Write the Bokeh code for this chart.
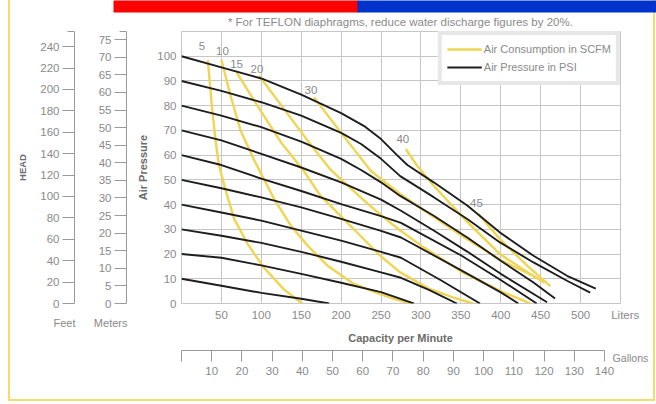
from bokeh.plotting import figure
from bokeh.models import (Range1d, LinearAxis, FixedTicker, Label, Legend, LegendItem,
                          ColumnDataSource, Title)
from bokeh.core.properties import value
from bokeh.embed import file_html
from bokeh.resources import INLINE

# ---------------- data ----------------
title_text = "* For TEFLON diaphragms, reduce water discharge figures by 20%."

liter_ticks = [50, 100, 150, 200, 250, 300, 350, 400, 450, 500]
psi_ticks = [0, 10, 20, 30, 40, 50, 60, 70, 80, 90, 100]
gallon_ticks = [0, 10, 20, 30, 40, 50, 60, 70, 80, 90, 100, 110, 120, 130, 140]
feet_ticks = [0, 20, 40, 60, 80, 100, 120, 140, 160, 180, 200, 220, 240]
meter_ticks = [0, 5, 10, 15, 20, 25, 30, 35, 40, 45, 50, 55, 60, 65, 70, 75]

FT_PER_PSI = 2.31
M_PER_PSI = 0.7031
L_PER_GAL = 3.785

# Air pressure curves (PSI): capacity in liters/min vs head in PSI
p10_lpm = [0, 50, 100, 150, 185]
p10_psi = [10, 7.2, 4.3, 1.9, 0]
p20_lpm = [0, 50, 100, 150, 200, 250, 291]
p20_psi = [20, 18.5, 15.4, 12, 8.4, 4.6, 0]
p30_lpm = [0, 50, 100, 150, 200, 250, 275, 310, 345]
p30_psi = [30, 27.4, 24.5, 20.9, 16.9, 12.6, 10.4, 5.5, 0]
p40_lpm = [0, 50, 100, 150, 200, 250, 275, 325, 374]
p40_psi = [40, 36.8, 33.5, 29.5, 25.4, 20.9, 18.5, 9.4, 0]
p50_lpm = [0, 50, 100, 150, 200, 250, 275, 350, 400, 422]
p50_psi = [50, 46.6, 42.9, 38.9, 34.2, 29.4, 26.7, 13.5, 4.5, 0]
p60_lpm = [0, 50, 100, 150, 200, 250, 275, 350, 400, 445]
p60_psi = [60, 56, 50.5, 45.5, 40.2, 35.3, 32.6, 19.5, 9.5, 0]
p70_lpm = [0, 50, 100, 150, 200, 250, 275, 316, 358, 400, 458]
p70_psi = [70, 66, 60.5, 55, 49, 42, 37.5, 29.5, 21, 12, 0.5]
p80_lpm = [0, 50, 100, 150, 200, 225, 250, 274, 316, 358, 400, 441, 468]
p80_psi = [80, 76, 71.3, 65.5, 58.5, 54, 49, 43.5, 35.5, 26.7, 17.3, 8.5, 2]
p90_lpm = [0, 50, 100, 150, 200, 225, 250, 274, 316, 358, 399, 441, 483, 512]
p90_psi = [90, 86, 81.4, 76, 69, 64.5, 58.5, 51.5, 43, 34.2, 24.7, 16.6, 9.2, 4.4]
p100_lpm = [0, 50, 100, 150, 200, 230, 250, 270, 283, 316, 358, 399, 441, 483, 519]
p100_psi = [100, 95.5, 91, 84.5, 77, 71.5, 66.5, 60, 56, 49, 39.6, 28.7, 19.3, 11.2, 6]

# Air consumption curves (SCFM)
s5_lpm = [33, 38, 43, 47, 56, 66, 83, 103, 128, 151]
s5_psi = [98.5, 80, 65, 55.8, 45, 34.2, 24, 14.6, 5.8, 0]
s10_lpm = [50, 62, 74, 91, 116, 137, 158, 183, 216, 249, 270, 288]
s10_psi = [98.5, 83.4, 70, 58, 42.3, 31.5, 23.4, 15.3, 7.9, 3.8, 1.5, 0]
s15_lpm = [69, 99, 125, 153, 174, 199, 224, 249, 274, 310, 340, 365]
s15_psi = [93.5, 78, 65, 53.7, 43.6, 35.5, 27.4, 19.3, 12.6, 6, 2.5, 0]
s20_lpm = [97, 130, 160, 187, 224, 249, 274, 300, 350, 400, 437]
s20_psi = [92.2, 78, 65, 54, 43, 36, 29.5, 23.5, 13, 5, 0]
s30_lpm = [166, 200, 237, 274, 316, 358, 400, 445]
s30_psi = [83.4, 69, 53.7, 44.3, 35, 26, 17.5, 10.5]
s40_lpm = [281, 295, 316, 358, 399, 441, 455]
s40_psi = [62.5, 55.8, 47.6, 33, 20, 11, 8.5]
s45_lpm = [372, 399, 433, 462]
s45_psi = [36.2, 26, 15.3, 7]

scfm_labels = ["5", "10", "15", "20", "30", "40", "45"]

pressure_curves = [(p10_lpm, p10_psi), (p20_lpm, p20_psi), (p30_lpm, p30_psi),
                   (p40_lpm, p40_psi), (p50_lpm, p50_psi), (p60_lpm, p60_psi),
                   (p70_lpm, p70_psi), (p80_lpm, p80_psi), (p90_lpm, p90_psi),
                   (p100_lpm, p100_psi)]
air_curves = [(s5_lpm, s5_psi), (s10_lpm, s10_psi), (s15_lpm, s15_psi),
              (s20_lpm, s20_psi), (s30_lpm, s30_psi), (s40_lpm, s40_psi),
              (s45_lpm, s45_psi)]

# ---------------- style / layout ----------------
FONT = "Liberation Sans"
GRAY = "#8a8a8a"
DARK = "#6c6c6c"
AXLINE = "#9a9a9a"
GRID = "#c6c6c6"
YELLOW = "#F0D552"
BORDER_YELLOW = "#f2dc72"
BLACK = "#1e1e1e"
TICK_SIZE = "11.5px"
UNIT_SIZE = "11px"
NBSP = "\u00a0"

# pixel offsets of the SCFM labels from the start of their curves (style only)
label_dx = [-6, 1, 0, -2, -3, -3, -2]
label_dy = [-14, -9, -8.5, -7, -7, -10, -11]

W, H = 656, 404
F_LEFT, F_RIGHT, F_TOP, F_BOTTOM = 181, 620, 31, 303
X_MAX = 550
Y_MAX = 110
PX_X = (F_RIGHT - F_LEFT) / X_MAX
PX_Y = (F_BOTTOM - F_TOP) / Y_MAX


def to_data(px, py):
    """page pixel -> data coordinates (for text placed outside the frame)"""
    return (px - F_LEFT) / PX_X, (F_BOTTOM - py) / PX_Y


p = figure(width=W, height=H,
           x_range=Range1d(0, X_MAX), y_range=Range1d(0, Y_MAX),
           output_backend="svg", toolbar_location=None,
           min_border_left=F_LEFT, min_border_right=W - F_RIGHT,
           min_border_top=F_TOP, min_border_bottom=H - F_BOTTOM)
p.background_fill_color = "white"
p.border_fill_color = "white"
p.outline_line_color = GRID
p.outline_line_width = 1
p.title.visible = False

# thin yellow page frame (left, bottom, right) painted behind a transparent border area
try:
    grad = "linear-gradient(%s,%s)" % (BORDER_YELLOW, BORDER_YELLOW)
    p.styles = {"background": (grad + " 8px 0px / 2px 401px no-repeat, " +
                               grad + " 8px 399px / 647px 2px no-repeat, " +
                               grad + " 653px 0px / 2px 401px no-repeat, #ffffff")}
    p.border_fill_alpha = 0
except Exception:
    p.border_fill_alpha = 1

p.extra_y_ranges = {"m": Range1d(0, Y_MAX * M_PER_PSI), "ft": Range1d(0, Y_MAX * FT_PER_PSI)}
p.extra_x_ranges = {"gal": Range1d(0, X_MAX / L_PER_GAL)}


def base_style(ax):
    ax.major_label_text_font = FONT
    ax.major_label_text_font_size = TICK_SIZE
    ax.major_label_text_color = GRAY
    ax.major_tick_in = 0
    ax.minor_tick_in = 0
    ax.axis_label_text_font = FONT
    ax.axis_label_text_font_style = "bold"
    ax.axis_label_text_color = DARK


def pad_label(ax, standoff):
    ax.axis_label = NBSP
    ax.axis_label_text_font_size = "1px"
    ax.axis_label_standoff = standoff


def side_label(side, px, py, text, align="left", baseline="middle", bold=False,
               size=UNIT_SIZE, color=None, bg=None):
    x, y = to_data(px, py)
    lab = Label(x=x, y=y, text=text, text_font=FONT, text_font_size=size,
                text_font_style="bold" if bold else "normal",
                text_color=color if color else (DARK if bold else GRAY),
                text_align=align, text_baseline=baseline,
                background_fill_color=bg)
    p.add_layout(lab, side)


ax_l = p.xaxis[0]
ay_p = p.yaxis[0]

# primary liters axis (labels only) -- unit name "Liters" at the right end
base_style(ax_l)
ax_l.ticker = FixedTicker(ticks=liter_ticks + [X_MAX])
ax_l.major_label_overrides = {X_MAX: NBSP * 3 + "Liters"}
ax_l.axis_line_color = None
ax_l.major_tick_line_color = None
ax_l.minor_tick_line_color = None
ax_l.major_tick_out = 0
ax_l.minor_tick_out = 0
ax_l.major_label_standoff = 5

# primary psi axis (labels only)
base_style(ay_p)
ay_p.ticker = FixedTicker(ticks=psi_ticks)
ay_p.axis_line_color = None
ay_p.major_tick_line_color = None
ay_p.minor_tick_line_color = None
ay_p.major_tick_out = 0
ay_p.minor_tick_out = 0
ay_p.major_label_standoff = 5
ay_p.axis_label = "Air Pressure"
ay_p.axis_label_text_font_size = "11px"
ay_p.axis_label_standoff = 5

# spacer between "Air Pressure" and the meters scale
p.add_layout(Title(text=NBSP, text_font_size="1px", standoff=5), "left")

# meters axis
m_axis = LinearAxis(y_range_name="m",
                    ticker=FixedTicker(ticks=meter_ticks, minor_ticks=[Y_MAX * M_PER_PSI - 0.05]))
base_style(m_axis)
m_axis.axis_line_color = AXLINE
m_axis.major_tick_line_color = AXLINE
m_axis.minor_tick_line_color = AXLINE
m_axis.major_tick_out = 12
m_axis.minor_tick_out = 7
m_axis.major_label_standoff = 3
pad_label(m_axis, 17)
p.add_layout(m_axis, "left")

# feet axis
ft_axis = LinearAxis(y_range_name="ft",
                     ticker=FixedTicker(ticks=feet_ticks, minor_ticks=[Y_MAX * FT_PER_PSI - 0.1]))
base_style(ft_axis)
ft_axis.axis_line_color = AXLINE
ft_axis.major_tick_line_color = AXLINE
ft_axis.minor_tick_line_color = AXLINE
ft_axis.major_tick_out = 12
ft_axis.minor_tick_out = 7
ft_axis.major_label_standoff = 3
ft_axis.axis_label = "HEAD"
ft_axis.axis_label_text_font_size = "9.5px"
ft_axis.axis_label_standoff = 9
p.add_layout(ft_axis, "left")

# texts under the frame (side-panel labels are not clipped)
side_label("below", 400, 337, "Capacity per Minute", align="center", bold=True)
side_label("below", 53, 322, "Feet" + NBSP * 6 + "Meters")
p.add_layout(Title(text=NBSP, text_font_size="1px", standoff=0), "below")

# gallons axis
g_axis = LinearAxis(x_range_name="gal", ticker=FixedTicker(ticks=gallon_ticks),
                    bounds=(gallon_ticks[0], gallon_ticks[-1]))
base_style(g_axis)
g_axis.axis_line_color = AXLINE
g_axis.major_tick_line_color = AXLINE
g_axis.minor_tick_line_color = None
g_axis.major_tick_out = 11
g_axis.minor_tick_out = 0
g_axis.major_label_standoff = 5
g_axis.major_label_overrides = {0: ""}
p.add_layout(g_axis, "below")

side_label("below", 400, 21, title_text, align="center", size="11.5px")
side_label("right", 612, 357, "Gallons", size="10.6px")

# page header bar (red | blue)
side_label("above", 113, 0, NBSP * 84, baseline="top", size="10.5px", bg="#ff0000")
side_label("above", 357, 0, NBSP * 103, baseline="top", size="10.5px", bg="#0033cc")

p.xgrid.ticker = FixedTicker(ticks=liter_ticks)
p.ygrid.ticker = FixedTicker(ticks=psi_ticks)
p.grid.grid_line_color = GRID
p.grid.grid_line_width = 1

# ---------------- curves ----------------
air_renderers = []
for xs, ys in air_curves:
    r = p.line(xs, ys, line_color=YELLOW, line_width=2.4)
    air_renderers.append(r)

press_renderers = []
for xs, ys in pressure_curves:
    r = p.line(xs, ys, line_color=BLACK, line_width=1.9)
    press_renderers.append(r)

lbl_src = ColumnDataSource(dict(x=[c[0][0] for c in air_curves],
                                y=[c[1][0] for c in air_curves],
                                t=scfm_labels, dx=label_dx, dy=label_dy))
p.text(x="x", y="y", text="t", source=lbl_src, x_offset="dx", y_offset="dy",
       text_align="center", text_baseline="middle",
       text_font=value(FONT), text_font_size=TICK_SIZE, text_color=GRAY)

legend = Legend(items=[LegendItem(label="Air Consumption in SCFM", renderers=[air_renderers[0]]),
                       LegendItem(label="Air Pressure in PSI", renderers=[press_renderers[0]])],
                location="top_right", margin=0, padding=5, spacing=0,
                glyph_width=35, glyph_height=18, label_height=18, label_standoff=2,
                label_text_font=FONT, label_text_font_size=UNIT_SIZE, label_text_color=GRAY,
                border_line_color="#d0d0d0", border_line_width=4,
                background_fill_color="white", background_fill_alpha=1.0)
p.add_layout(legend)

open("out.html", "w").write(file_html(p, INLINE))
